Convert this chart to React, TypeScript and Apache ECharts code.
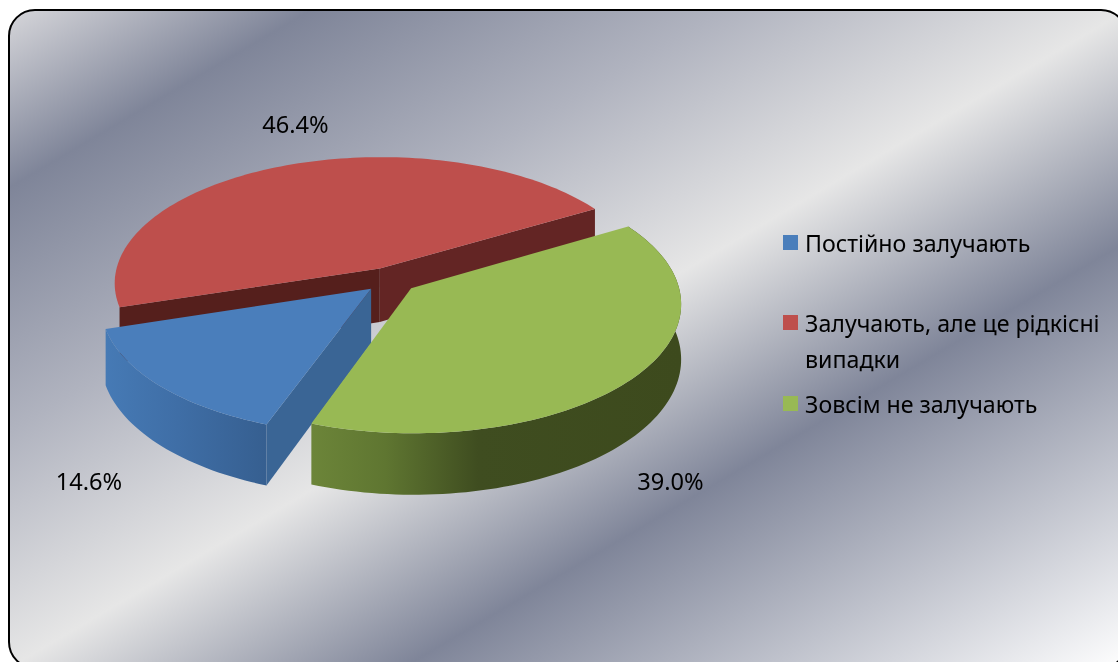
import React, { useEffect, useRef } from "react";
import * as echarts from "echarts";

const categories = ["Постійно залучають", "Залучають, але це рідкісні випадки", "Зовсім не залучають"];
const legendLines = [["Постійно залучають"], ["Залучають, але це рідкісні", "випадки"], ["Зовсім не залучають"]];
const values = [14.6, 46.4, 39.0];
const topColors = ["#4a7ebb", "#be4f4c", "#98b954"];

const W = 1118, H = 662;
const FONT = '"Noto Sans", sans-serif';
const START_DEG = 199.9;
const EXPLODE = 0.1;
const CX = 390.5, CY = 280, RX = 266, RY = 126.6, PERSP = 0.114, DEPTH = 54;
const labelPos = [[89, 481], [295.5, 123.5], [670.5, 481]];
const legendY = [242.5, 322.5, 403.5];

const project = (u: number, v: number, lift = 0): number[] => {
  const w = 1 + PERSP * v;
  return [CX + (RX * u) / w, CY - (RY * v) / w + (lift ? DEPTH / w : 0)];
};
const pt = (deg: number, r = 1): number[] => {
  const a = (deg * Math.PI) / 180;
  return [Math.sin(a) * r, Math.cos(a) * r];
};
const arcPts = (a0: number, a1: number, ax: number, ay: number, lift: number) => {
  const out: number[][] = [];
  const n = Math.max(8, Math.round(Math.abs(a1 - a0) / 1.5));
  for (let i = 0; i <= n; i++) {
    const [u, v] = pt(a0 + ((a1 - a0) * i) / n);
    out.push(project(ax + u, ay + v, lift));
  }
  return out;
};

const grad = (stops: [number, string][]) =>
  new echarts.graphic.LinearGradient(0, 0, 1, 0, stops.map(([offset, color]) => ({ offset, color })));

const poly = (points: number[][], fill: any, z2: number) => ({
  type: "polygon",
  z2,
  shape: { points },
  style: { fill },
  silent: true,
});

function renderItem(params: any, api: any) {
  const idx = params.dataIndex;
  const total = values.reduce((s, x) => s + x, 0);
  const before = values.slice(0, idx).reduce((s, x) => s + x, 0);
  const a0 = START_DEG + (before / total) * 360;
  const a1 = a0 + (api.value(0) / total) * 360;
  const [ax, ay] = pt((a0 + a1) / 2, EXPLODE);
  const apexTop = project(ax, ay);
  const apexBot = project(ax, ay, 1);
  const top = arcPts(a0, a1, ax, ay, 0);
  const z = idx === 1 ? 1 : idx === 0 ? 10 : 20;
  const children: any[] = [];
  if (idx === 0) {
    const bot = arcPts(a0, a1, ax, ay, 1);
    children.push(poly([...top, ...bot.reverse()], grad([[0, "#467ab5"], [0.45, "#3f6ea6"], [1, "#365f90"]]), z));
    children.push(poly([apexTop, top[0], arcPts(a0, a0, ax, ay, 1)[0], apexBot], "#3a6595", z));
  }
  if (idx === 1) {
    const e0 = arcPts(a0, a0, ax, ay, 1)[0];
    const e1 = arcPts(a1, a1, ax, ay, 1)[0];
    children.push(poly([apexTop, top[0], e0, apexBot], "#551f1c", z));
    children.push(poly([apexTop, top[top.length - 1], e1, apexBot], "#632524", z));
  }
  if (idx === 2) {
    const bot = arcPts(a0, a1, ax, ay, 1);
    children.push(poly([...top, ...bot.reverse()], grad([[0, "#6c8539"], [0.2, "#5f7631"], [0.45, "#3f4d20"], [1, "#3d4a1d"]]), z));
  }
  children.push(poly([apexTop, ...top], topColors[idx], z + 1));
  children.push({
    type: "text",
    z2: 30,
    x: labelPos[idx][0],
    y: labelPos[idx][1],
    style: {
      text: api.value(0).toFixed(1) + "%",
      fill: "#000",
      font: `23.6px ${FONT}`,
      align: "center",
      verticalAlign: "middle",
    },
  });
  return { type: "group", children };
}

export default function App() {
  const ref = useRef<HTMLDivElement>(null);
  useEffect(() => {
    const chart = echarts.init(ref.current!, null, { renderer: "svg" });
    const legend: any[] = [];
    legendLines.forEach((lines, i) => {
      legend.push({ type: "rect", shape: { x: 783, y: legendY[i] - 7.5, width: 15, height: 15 }, style: { fill: topColors[i] } });
      lines.forEach((line, j) => {
        legend.push({
          type: "text",
          x: 805,
          y: legendY[i] + j * 36,
          style: { text: line, fill: "#000", font: `23.2px ${FONT}`, verticalAlign: "middle", align: "left" },
        });
      });
    });
    chart.setOption({
      animation: false,
      graphic: [
        {
          type: "rect",
          z: -10,
          shape: { x: 9, y: 10, width: 1118, height: 658, r: 26 },
          style: {
            stroke: "#000",
            lineWidth: 2,
            fill: new echarts.graphic.LinearGradient(0, 0, 1, 1, [
              { offset: 0, color: "#d6d6da" },
              { offset: 0.135, color: "#7f8599" },
              { offset: 0.32, color: "#b0b3bf" },
              { offset: 0.5, color: "#e6e6e6" },
              { offset: 0.676, color: "#7f8599" },
              { offset: 1, color: "#ffffff" },
            ]),
          },
        },
        ...legend,
      ],
      series: [
        {
          type: "custom",
          coordinateSystem: "none",
          renderItem,
          data: values.map((v, i) => ({ name: categories[i], value: [v] })),
        },
      ],
    });
    return () => chart.dispose();
  }, []);
  return <div ref={ref} style={{ position: "fixed", left: 0, top: 0, width: W, height: H }} />;
}
